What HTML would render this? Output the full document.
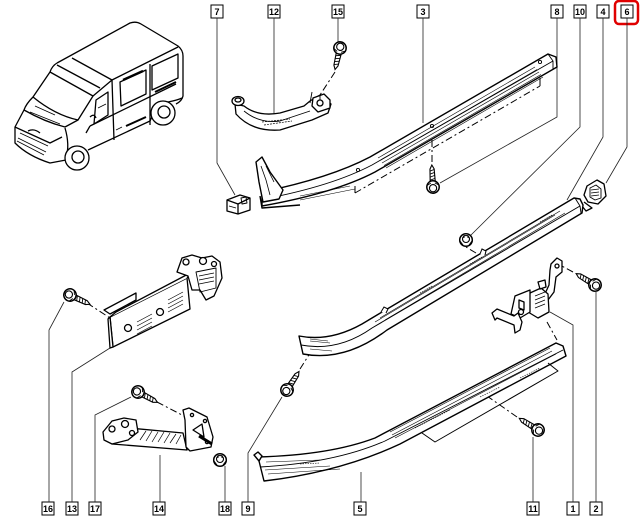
<!DOCTYPE html>
<html><head><meta charset="utf-8"><style>
html,body{margin:0;padding:0;background:#fff;}
svg{display:block;}
text{font-family:"Liberation Sans",sans-serif;font-size:9px;font-weight:bold;fill:#000;}
</style></head><body>
<svg width="640" height="525" viewBox="0 0 640 525" xmlns="http://www.w3.org/2000/svg">
<defs>
<g id="screw">
 <path d="M4 -2.6 L18 -2.1 L22 0 L18 2.1 L4 2.6 Z" fill="#fff" stroke="#000" stroke-width="1.1"/>
 <path d="M7 -2.5 L8.5 2.5 M10 -2.4 L11.5 2.4 M13 -2.3 L14.5 2.3 M16 -2.2 L17.5 2.2" stroke="#000" stroke-width="0.9"/>
 <circle cx="0" cy="0" r="6.2" fill="#fff" stroke="#000" stroke-width="1.5"/>
 <circle cx="-1.2" cy="0" r="3.6" fill="#fff" stroke="#000" stroke-width="1.1"/>
 <path d="M2 -5.5 L4 -2 M2 5.5 L4 2" stroke="#000" stroke-width="0.9"/>
</g>
<g id="nut">
 <circle cx="0" cy="0" r="6.3" fill="#fff" stroke="#000" stroke-width="1.5"/>
 <circle cx="0" cy="-1" r="3.5" fill="#fff" stroke="#000" stroke-width="1.1"/>
 <path d="M-6 1 L-3 5 M6 1 L3 5 M-2 -5 L-2 -2 M2 -5 L2 -2" stroke="#000" stroke-width="0.9"/>
</g>
</defs>

<!-- ============ LABEL BOXES ============ -->
<g fill="#fff" stroke="#000" stroke-width="1">
 <rect x="211" y="5" width="12" height="13"/>
 <rect x="268" y="5" width="12" height="13"/>
 <rect x="332" y="5" width="12" height="13"/>
 <rect x="417" y="5" width="12" height="13"/>
 <rect x="551" y="5" width="12" height="13"/>
 <rect x="574" y="5" width="12" height="13"/>
 <rect x="597" y="5" width="12" height="13"/>
 <rect x="621" y="5" width="12" height="13"/>
 <rect x="42" y="502" width="12" height="13"/>
 <rect x="66" y="502" width="12" height="13"/>
 <rect x="89" y="502" width="12" height="13"/>
 <rect x="153" y="502" width="12" height="13"/>
 <rect x="219" y="502" width="12" height="13"/>
 <rect x="242" y="502" width="12" height="13"/>
 <rect x="354" y="502" width="12" height="13"/>
 <rect x="527" y="502" width="12" height="13"/>
 <rect x="567" y="502" width="12" height="13"/>
 <rect x="590" y="502" width="12" height="13"/>
</g>
<rect x="615" y="1" width="23" height="23" rx="4" ry="4" fill="none" stroke="#e00000" stroke-width="2.5"/>
<g text-anchor="middle">
 <text x="217" y="15">7</text>
 <text x="274" y="15">12</text>
 <text x="338" y="15">15</text>
 <text x="423" y="15">3</text>
 <text x="557" y="15">8</text>
 <text x="580" y="15">10</text>
 <text x="603" y="15">4</text>
 <text x="627" y="15">6</text>
 <text x="48" y="512">16</text>
 <text x="72" y="512">13</text>
 <text x="95" y="512">17</text>
 <text x="159" y="512">14</text>
 <text x="225" y="512">18</text>
 <text x="248" y="512">9</text>
 <text x="360" y="512">5</text>
 <text x="533" y="512">11</text>
 <text x="573" y="512">1</text>
 <text x="596" y="512">2</text>
</g>

<!-- ============ LEADER LINES ============ -->
<g fill="none" stroke="#222" stroke-width="0.8">
 <path d="M217 18 V163 L235 195"/>
 <path d="M274 18 V117"/>
 <path d="M338 18 V42"/>
 <path d="M423 18 V123"/>
 <path d="M557 18 V117 L440 183"/>
 <path d="M580 18 V127 L470 236"/>
 <path d="M603 18 V137 L567 200"/>
 <path d="M627 18 V147 L606 183"/>
 <path d="M64 302 L49 330 V502"/>
 <path d="M110 348 L72 372 V502"/>
 <path d="M131 397 L95 415 V502"/>
 <path d="M160 455 V502"/>
 <path d="M225 466 V502"/>
 <path d="M282 397 L248 453 V502"/>
 <path d="M361 472 V502"/>
 <path d="M533 437 V502"/>
 <path d="M550 312 L573 325 V502"/>
 <path d="M596 292 V502"/>
</g>

<!-- dashed assembly lines -->
<g fill="none" stroke="#000" stroke-width="1" stroke-dasharray="7 3 2 3">
 <path d="M335 72 L320 95"/>
 <path d="M432 140 V164"/>
 <path d="M87 303 L110 318"/>
 <path d="M157 402 L184 416"/>
 <path d="M300 369 L312 350"/>
 <path d="M517 417 L487 396"/>
 <path d="M573 272 L560 265"/>
 <path d="M547 322 L557 340"/>
 <path d="M476 253 L466 247"/>
 <path d="M355 193 L540 86"/>
</g>
<path d="M355 186 V193 M540 78 V86" stroke="#000" stroke-width="1"/>

<!-- ============ VAN ============ -->
<g fill="none" stroke="#000" stroke-width="1.3" stroke-linejoin="round">
 <path d="M57 63 L130 23 Q136 21 141 24 L178 46 Q183 50 183 56 L183 96 Q182 101 176 104"/>
 <path d="M57 63 Q52 66 50 72 L33 97 Q26 104 24 110 L15 127 L15 143 Q28 156 50 163 L66 160"/>
 <path d="M72 58 L112 80 L178 47"/>
 <path d="M50 72 L93 96 L78 120 Q55 115 33 97"/>
 <path d="M57 65 L100 88"/>
 <path d="M24 110 Q45 122 65 127 L78 120"/>
 <path d="M15 127 L50 143 L62 137"/>
 <path d="M93 96 L112 80 L114 140"/>
 <path d="M96 100 L108 92 L108 115 L94 124 Z"/>
 <path d="M120 82 L146 70 L146 94 L121 106 Z"/>
 <path d="M152 66 L178 54 L178 78 L152 90 Z"/>
 <path d="M150 64 L150 125"/>
 <path d="M90 126 L176 84"/>
 <path d="M88 150 L150 121 Q156 107 168 102 Q178 100 182 98"/>
 <path d="M65 128 Q70 145 66 158"/>
 <path d="M86 133 L90 126"/>
 <path d="M28 131 Q34 128 40 133"/>
 <circle cx="77" cy="158" r="12" fill="#fff"/>
 <circle cx="78" cy="157" r="6"/>
 <circle cx="163" cy="113" r="12" fill="#fff"/>
 <circle cx="164" cy="112" r="6"/>
 <path d="M90 117 Q94 113 96 118" />
</g>
<g fill="none" stroke="#000" stroke-width="0.8">
 <path d="M20 133 L48 146 M18 138 L46 152 M17 141 L44 155"/>
 <path d="M30 112 L60 124 M35 106 L55 115"/>
 <path d="M98 108 L106 104 M116 130 L122 127"/>
</g>
<path d="M123 80 L143 71" stroke="#000" stroke-width="2.4"/>
<path d="M155 92 L176 82" stroke="#000" stroke-width="2"/>
<path d="M126 126 L146 117" stroke="#000" stroke-width="2"/>

<!-- ============ PART 12 STRAP ============ -->
<g fill="#fff" stroke="#000" stroke-width="1.3" stroke-linejoin="round">
 <path d="M235 104 L236 114 Q252 132 280 130 L312 120 L328 113 L331 104 L320 95 L310 101 L304 106 L280 113 Q258 117 244 106 Z"/>
 <path d="M244 111 Q260 124 280 121 L310 111" fill="none" stroke-width="0.9"/>
 <path d="M262 122 L290 119 M264 125 L292 121" fill="none" stroke-width="0.7" stroke-dasharray="2 1"/>
 <ellipse cx="238" cy="101" rx="6" ry="4.5"/>
 <ellipse cx="238" cy="100" rx="3" ry="2"/>
 <path d="M313 98 L324 94 L330 100 L330 108 L318 112 L312 106 Z"/>
 <circle cx="320" cy="103" r="3"/>
 <path d="M312 92 L310 103 M320 95 L320 100" fill="none" stroke-width="0.9"/>
</g>
<use href="#screw" transform="translate(340,48) rotate(103)"/>

<!-- ============ PART 7 CLIP ============ -->
<g fill="#fff" stroke="#000" stroke-width="1.3" stroke-linejoin="round">
 <path d="M227 200 L240 195 L250 198 L250 210 L238 214 L227 211 Z"/>
 <path d="M227 200 L238 204 L250 198 M238 204 L238 214"/>
 <path d="M241 198 L246 197 L247 203 L242 204 Z" fill="none" stroke-width="0.9"/>
 <path d="M229 206 L236 208" fill="none" stroke-width="0.8"/>
</g>

<!-- ============ PART 3 UPPER RAIL ============ -->
<g fill="#fff" stroke="#000" stroke-width="1.4" stroke-linejoin="round">
 <path d="M262 192 Q330 178 370 157 L548 54 L556 57 L557 67 L375 172 Q335 193 262 206 Z"/>
 <path d="M264 199 Q332 186 372 165 L553 61" fill="none" stroke-width="0.9"/>
 <path d="M548 54 L553 61 L553 70" fill="none" stroke-width="0.9"/>
 <path d="M256 162 L262 157 L270 172 L283 190 L279 199 L263 202 L259 182 Z"/>
 <path d="M261 166 L266 180 L270 195 M266 166 L274 182" fill="none" stroke-width="0.8"/>
 <path d="M260 196 L262 208 L300 205" fill="none"/>
</g>
<g fill="none" stroke="#000" stroke-width="0.6">
 <path d="M378 158 L535 67"/>
 <path d="M380 160.5 L537 69.5"/>
 <path d="M382 163 L539 72"/>
 <path d="M384 165.5 L541 74.5"/>
 <path d="M386 168 L543 77"/>
 <path d="M300 196 L350 186"/>
 <path d="M300 200 L355 189"/>
</g>
<circle cx="358" cy="170" r="1.6" fill="none" stroke="#000" stroke-width="0.9"/>
<circle cx="432" cy="126" r="1.6" fill="none" stroke="#000" stroke-width="0.9"/>
<circle cx="540" cy="62" r="1.6" fill="none" stroke="#000" stroke-width="0.9"/>
<use href="#screw" transform="translate(433,187) rotate(-93)"/>

<!-- ============ PART 6 CLIP ============ -->
<g fill="#fff" stroke="#000" stroke-width="1.3" stroke-linejoin="round">
 <path d="M587 186 L597 180 L604 184 L606 196 L598 204 L588 202 L584 195 Z"/>
 <path d="M590 188 L596 185 L601 189 L601 198 L595 200 L590 197 Z" fill="none" stroke-width="0.9"/>
 <path d="M591 190 L599 189 M591 193 L599 192 M591 196 L599 195" fill="none" stroke-width="0.7"/>
 <path d="M584 202 L592 208 L586 211 L582 206" fill="none"/>
</g>

<!-- ============ PART 4 MIDDLE RAIL ============ -->
<g fill="#fff" stroke="#000" stroke-width="1.4" stroke-linejoin="round">
 <path d="M299 336 Q330 342 362 324 L574 198 L580 199 L583 205 L582 213 L387 330 Q345 362 303 354 Z"/>
 <path d="M301 345 Q338 352 372 328 L580 206" fill="none" stroke-width="1"/>
 <path d="M575 198 L580 206 L581 213" fill="none" stroke-width="0.9"/>
</g>
<g fill="none" stroke="#000" stroke-width="0.6">
 <path d="M380 318 L560 211"/>
 <path d="M385 320 L565 213"/>
 <path d="M375 322 L555 215"/>
 <path d="M368 320 L552 211"/>
 <path d="M310 341 L330 343 M310 339 L328 341 M310 349 L332 351"/>
 <path d="M420 293 L432 286 M470 264 L482 257 M540 222 L552 215" stroke-dasharray="1.5 1"/>
</g>
<path d="M381 312 L384 307 L388 309 L386 313" fill="#fff" stroke="#000" stroke-width="1"/>
<path d="M480 254 L482 249 L486 251 L485 255" fill="#fff" stroke="#000" stroke-width="1"/>
<use href="#nut" transform="translate(466,240)"/>
<use href="#screw" transform="translate(287,390) rotate(-57)"/>

<!-- ============ PART 1 BRACKET ============ -->
<g fill="#fff" stroke="#000" stroke-width="1.3" stroke-linejoin="round">
 <path d="M551 264 L557 258 L562 261 L562 272 L556 277 L554 292 L548 300 L544 296 L549 285 L550 270 Z"/>
 <circle cx="557" cy="266" r="2"/>
 <path d="M530 293 L541 288 L548 294 L549 312 L538 318 L528 312 Z"/>
 <path d="M515 296 L530 290 L530 312 L520 318 L511 314 Z"/>
 <path d="M492 313 L497 309 L514 316 L518 313 L522 322 L520 330 L515 333 L514 325 L497 318 L495 320 Z"/>
 <path d="M519 300 L524 302 L524 310 L519 308 Z"/>
 <circle cx="521" cy="312" r="2.5"/>
 <path d="M535 296 L545 292 M535 300 L545 296 M535 304 L545 300 M535 308 L545 304" fill="none" stroke-width="0.7"/>
 <path d="M538 282 L545 280 L546 287 L540 289 Z"/>
</g>
<use href="#screw" transform="translate(595,285) rotate(-149)"/>

<!-- ============ PART 5 LOWER RAIL ============ -->
<g fill="#fff" stroke="#000" stroke-width="1.4" stroke-linejoin="round">
 <path d="M258 457 Q330 455 375 438 L556 343 L563 346 L566 356 L400 444 Q340 472 264 481 Z"/>
 <path d="M260 467 Q335 463 385 441 L563 350" fill="none" stroke-width="0.9"/>
 <path d="M422 433 L435 442 L558 371 L548 363" fill="none" stroke-width="1"/>
 <path d="M254 455 L258 452 L262 456 L259 461 Z"/>
</g>
<g fill="none" stroke="#000" stroke-width="0.6">
 <path d="M390 432 L550 348"/>
 <path d="M392 435 L552 351"/>
 <path d="M395 438 L556 354"/>
 <path d="M265 470 L330 466 M268 474 L340 469 M266 462 L320 460"/>
 <path d="M415 428 L450 410 M300 464 L320 463 M520 378 L540 368 M480 397 L500 387" stroke-dasharray="1.5 1"/>
</g>
<use href="#screw" transform="translate(538,430) rotate(-148)"/>

<!-- ============ PART 13 HINGE PLATE ============ -->
<g fill="#fff" stroke="#000" stroke-width="1.3" stroke-linejoin="round">
 <path d="M104 310 L136 293 L136 300 L110 314 Z"/>
 <path d="M110 317 L113 347 L190 309 L187 278 Z"/>
 <path d="M110 317 L116 312 L192 272 L187 278"/>
 <path d="M108 319 L110 317 L113 347 L110 348 Z"/>
 <path d="M177 272 L182 258 L192 255 L202 258 L212 256 L220 262 L222 278 L214 296 L206 300 L200 290 L192 290 L188 276 Z"/>
 <circle cx="186" cy="262" r="3"/>
 <circle cx="203" cy="261" r="3.5"/>
 <circle cx="214" cy="264" r="2.5"/>
 <path d="M196 272 L216 268 L216 288 L200 292 Z" fill="none" stroke-width="0.9"/>
 <path d="M199 276 L214 273 M199 280 L214 277 M199 284 L214 281" fill="none" stroke-width="0.7"/>
 <circle cx="128" cy="328" r="3.5"/>
 <circle cx="160" cy="312" r="3.5"/>
</g>
<g fill="none" stroke="#000" stroke-width="0.7">
 <path d="M137 322 L152 314 M137 326 L152 318 M137 330 L152 322 M137 334 L152 326"/>
 <path d="M168 304 L183 296 M168 308 L183 300 M168 312 L183 304 M168 300 L183 292"/>
</g>
<use href="#screw" transform="translate(70,295) rotate(25)"/>

<!-- ============ PART 14 BRACKET ============ -->
<g fill="#fff" stroke="#000" stroke-width="1.3" stroke-linejoin="round">
 <path d="M118 427 L183 433 L187 450 L112 444 Z"/>
 <path d="M183 410 L189 408 L207 417 L213 437 L211 447 L190 451 L186 447 L185 420 Z"/>
 <path d="M193 430 L202 424 L204 437 Z" fill="none"/>
 <circle cx="192" cy="415" r="1.6"/>
 <circle cx="205" cy="421" r="1.6"/>
 <circle cx="207" cy="442" r="1.6"/>
 <path d="M103 432 L112 421 L124 418 L136 420 L138 432 L128 440 L112 444 L104 440 Z"/>
 <circle cx="112" cy="429" r="3"/>
 <circle cx="125" cy="424" r="3.5"/>
 <circle cx="132" cy="433" r="2.5"/>
</g>
<g fill="none" stroke="#000" stroke-width="0.7">
 <path d="M140 440 L146 431 M146 441 L152 431 M152 442 L158 432 M158 442 L164 432 M164 443 L170 433 M170 443 L176 434 M176 444 L181 435"/>
</g>
<path d="M199 436 L212 444" stroke="#000" stroke-width="3"/>
<use href="#screw" transform="translate(138,392) rotate(28)"/>
<use href="#nut" transform="translate(220,460)"/>
</svg>
</body></html>
